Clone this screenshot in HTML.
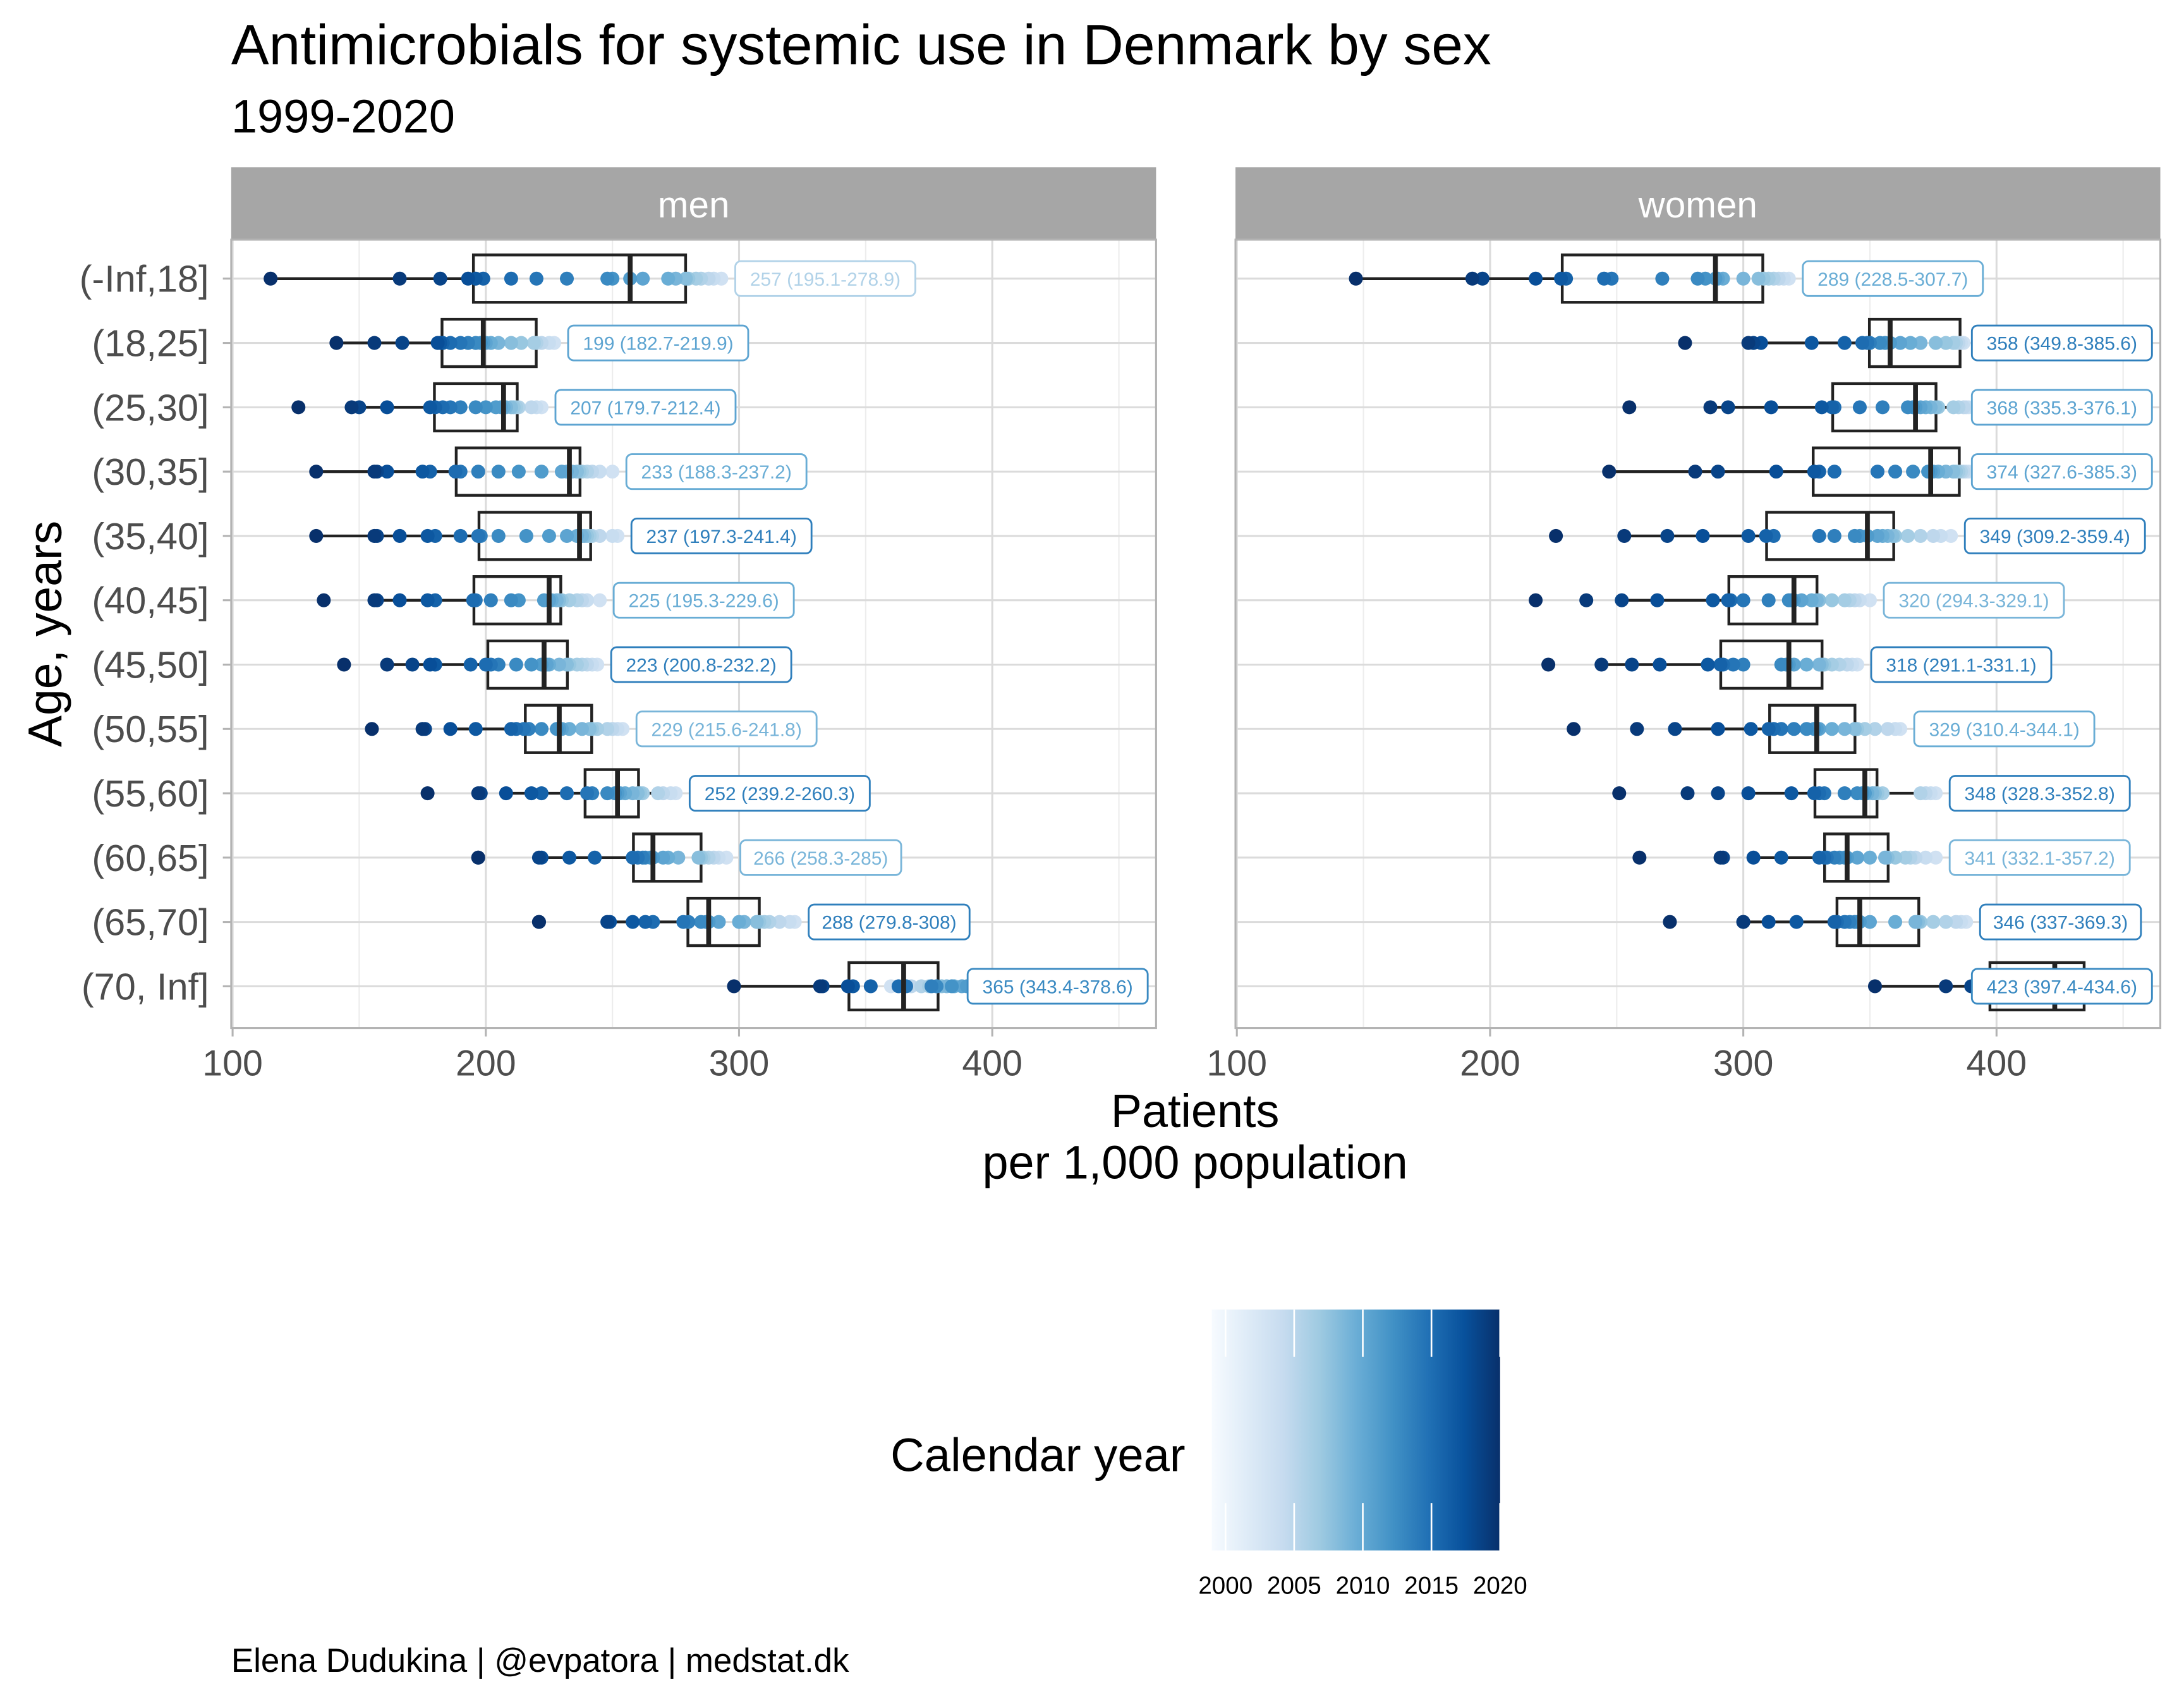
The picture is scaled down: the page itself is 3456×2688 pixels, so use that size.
<!DOCTYPE html>
<html><head><meta charset="utf-8"><style>
html,body{margin:0;padding:0;background:#fff}
svg{display:block;font-family:"Liberation Sans",Arial,sans-serif}
</style></head><body>
<svg id="c" width="3456" height="2688" viewBox="0 0 1568 1219.6" preserveAspectRatio="none">
<text x="166" y="46" font-size="40.6" fill="#000">Antimicrobials for systemic use in Denmark by sex</text>
<text x="166" y="95" font-size="33.6" fill="#000">1999-2020</text>
<text transform="translate(44,455) rotate(-90)" text-anchor="middle" font-size="34">Age, years</text>
<text x="858" y="809" text-anchor="middle" font-size="33.5">Patients</text>
<text x="858" y="846" text-anchor="middle" font-size="33.5">per 1,000 population</text>
<text x="851" y="1056" text-anchor="end" font-size="33.7">Calendar year</text>
<text x="166" y="1200" font-size="24">Elena Dudukina | @evpatora | medstat.dk</text>
<g id="plots"></g>
</svg>
<script>
const ageGroups=["(-Inf,18]","(18,25]","(25,30]","(30,35]","(35,40]","(40,45]","(45,50]","(50,55]","(55,60]","(60,65]","(65,70]","(70, Inf]"];
const years=[1999,2000,2001,2002,2003,2004,2005,2006,2007,2008,2009,2010,2011,2012,2013,2014,2015,2016,2017,2018,2019,2020];
const xTicks=[100,200,300,400];
const legendTicks=[2000,2005,2010,2015,2020];
const menValues=[
[293,290,288,285,283,280,279,275,272,262,257,250,248,232,220,210,199,196,193,182,166,115],
[227,225,222,220,219,214,210,205,202,200,199,198,196,193,190,186,183,182,181,167,156,141],
[222,220,218,213,212,211,210,208,207,206,204,200,196,190,186,183,180,178,161,150,147,126],
[250,245,242,240,238,237,236,234,232,230,222,213,205,197,190,188,178,175,161,157,156,133],
[252,250,245,242,241,240,239,238,236,232,225,216,205,198,197,190,180,177,166,157,156,133],
[245,240,238,236,233,230,229,228,226,225,223,213,210,202,196,195,180,177,166,157,156,136],
[244,242,240,238,236,233,232,229,225,224,222,218,212,205,202,200,194,180,178,171,161,144],
[254,252,250,248,244,242,241,238,233,230,229,228,222,217,215,212,210,196,186,176,175,155],
[275,273,270,268,262,261,260,258,255,253,252,251,248,242,240,232,222,218,208,198,197,177],
[295,292,290,288,286,285,284,276,272,270,266,265,263,262,260,258,243,233,222,221,197,197],
[322,320,316,312,310,308,307,302,300,292,288,287,285,280,278,266,263,258,249,248,221,221],
[360,365,368,372,375,378,380,382,385,388,390,384,378,376,366,363,352,345,343,333,332,298]];
const womenValues=[
[318,316,314,312,310,308,306,300,292,290,289,285,282,268,248,245,230,228,218,197,193,147],
[387,386,385,384,383,380,376,370,366,362,358,356,354,350,349,347,340,327,307,304,302,277],
[389,388,387,385,383,377,376,374,372,370,368,367,365,355,346,336,335,331,311,294,287,255],
[389,388,387,386,385,384,383,380,377,375,374,373,367,360,353,336,330,328,313,290,281,247],
[382,378,375,370,365,360,359,357,355,353,349,346,344,336,330,312,309,302,284,270,253,226],
[350,346,344,342,340,335,330,329,327,323,320,319,318,310,300,295,294,288,266,252,238,218],
[345,343,341,338,335,332,331,330,325,320,318,317,315,300,296,292,291,286,267,256,244,223],
[362,360,357,352,348,345,344,340,335,330,329,328,325,320,315,312,310,303,290,273,258,233],
[376,374,372,370,355,353,352,351,349,348,348,347,345,340,332,330,328,319,302,290,278,251],
[376,372,368,366,364,360,357,356,350,345,341,340,338,336,333,332,330,315,304,292,291,259],
[388,386,384,380,375,370,369,368,360,350,346,345,344,342,340,337,336,321,310,300,300,271],
[448,445,442,440,438,435,434,432,430,425,423,422,420,415,410,405,400,397,395,390,380,352]];
const menMedian=[257,199,207,233,237,225,223,229,252,266,288,365];
const menQ1=[195.1,182.7,179.7,188.3,197.3,195.3,200.8,215.6,239.2,258.3,279.8,343.4];
const menQ3=[278.9,219.9,212.4,237.2,241.4,229.6,232.2,241.8,260.3,285,308,378.6];
const menLabelYear=[2002,2008,2008,2007,2012,2007,2012,2006,2012,2006,2012,2011];
const womenMedian=[289,358,368,374,349,320,318,329,348,341,346,423];
const womenQ1=[228.5,349.8,335.3,327.6,309.2,294.3,291.1,310.4,328.3,332.1,337,397.4];
const womenQ3=[307.7,385.6,376.1,385.3,359.4,329.1,331.1,344.1,352.8,357.2,369.3,434.6];
const womenLabelYear=[2007,2012,2008,2008,2012,2006,2012,2007,2012,2006,2012,2011];

const stops=["#f7fbff","#deebf7","#c6dbef","#9ecae1","#6baed6","#4292c6","#2171b5","#08519c","#08306b"];
function hex(h){return [1,3,5].map(i=>parseInt(h.substr(i,2),16));}
function colorAt(t){t=t*(stops.length-1);let i=Math.min(Math.floor(t),stops.length-2);let f=t-i;let a=hex(stops[i]),b=hex(stops[i+1]);return "rgb("+a.map((v,k)=>Math.round(v+(b[k]-v)*f)).join(",")+")";}
function yearColor(y){return colorAt(0.2+0.8*(y-1999)/21);}
const NS="http://www.w3.org/2000/svg";
const root=document.getElementById('plots');
function mk(tag,attrs,parent){const e=document.createElementNS(NS,tag);for(const k in attrs)e.setAttribute(k,attrs[k]);(parent||root).appendChild(e);return e;}
const yScale=i=>200+i*46.18;
function panel(x0,name,vals,med,q1,q3,ly){
  const xScale=v=>x0+1+(v-100)*1.818;
  const g=mk('g',{});
  
  
  const L=x0,R=x0+664;
  const st=mk('rect',{x:L,y:120,width:R-L,height:52,fill:'#a6a6a6'},g);
  
  const stt=mk('text',{x:(L+R)/2,y:156,'text-anchor':'middle','font-size':26.5,fill:'#fff'},g);stt.textContent=name;
  
  for(let v=150;v<=450;v+=100)mk('line',{x1:xScale(v),x2:xScale(v),y1:172,y2:738,stroke:'#ededed','stroke-width':1},g);
  xTicks.forEach(v=>{mk('line',{x1:xScale(v),x2:xScale(v),y1:172,y2:738,stroke:'#dbdbdb','stroke-width':1.4},g);
    mk('line',{x1:xScale(v),x2:xScale(v),y1:738,y2:744,stroke:'#b3b3b3','stroke-width':1.4},g);
    const t=mk('text',{x:xScale(v),y:772,'text-anchor':'middle','font-size':26,fill:'#4d4d4d'},g);t.textContent=v;
    });
  ageGroups.forEach((a,i)=>mk('line',{x1:L,x2:R,y1:yScale(i),y2:yScale(i),stroke:'#dbdbdb','stroke-width':1.4},g));
  mk('rect',{x:L,y:172,width:R-L,height:566,fill:'none',stroke:'#b3b3b3','stroke-width':1.4},g);
  ageGroups.forEach((a,i)=>{
    const y=yScale(i),d=vals[i],iqr=q3[i]-q1[i];
    const lo=Math.min(...d.filter(v=>v>=q1[i]-1.5*iqr)),hi=Math.max(...d.filter(v=>v<=q3[i]+1.5*iqr));
    const bg=mk('g',{},g);
    mk('line',{x1:xScale(lo),x2:xScale(q1[i]),y1:y,y2:y,stroke:'#222','stroke-width':2},bg);
    mk('line',{x1:xScale(q3[i]),x2:xScale(hi),y1:y,y2:y,stroke:'#222','stroke-width':2},bg);
    mk('rect',{x:xScale(q1[i]),y:y-17,width:xScale(q3[i])-xScale(q1[i]),height:34,fill:'none',stroke:'#222','stroke-width':2},bg);
    d.forEach((v,k)=>{const c=mk('circle',{cx:xScale(v),cy:y,r:5,fill:yearColor(years[k])},bg);
      });
    mk('line',{x1:xScale(med[i]),x2:xScale(med[i]),y1:y-17,y2:y+17,stroke:'#222','stroke-width':3.5},bg);
    const txt=med[i]+" ("+q1[i]+"-"+q3[i]+")";const col=yearColor(ly[i]);
    const w=txt.length*6.9+12;let lx=xScale(Math.max(...d))+10;
    if(lx+w>R-6)lx=R-6-w;
    const lb=mk('rect',{x:lx,y:y-12.5,width:w,height:25,rx:4,fill:'#fff',stroke:col,'stroke-width':1.3},bg);
    
    const lt=mk('text',{x:lx+w/2,y:y+5,'text-anchor':'middle','font-size':13.6,fill:col},bg);lt.textContent=txt;
    
  });
}
ageGroups.forEach((a,i)=>{const t=mk('text',{x:150,y:yScale(i)+9.5,'text-anchor':'end','font-size':27,fill:'#4d4d4d'});t.textContent=a;
  
  mk('line',{x1:160,x2:166,y1:yScale(i),y2:yScale(i),stroke:'#b3b3b3','stroke-width':1.4});});
panel(166,'men',menValues,menMedian,menQ1,menQ3,menLabelYear);
panel(887,'women',womenValues,womenMedian,womenQ1,womenQ3,womenLabelYear);
// legend
const lg=mk('g',{});
const defs=mk('defs',{},lg);const grad=mk('linearGradient',{id:'bl',x1:0,x2:1,y1:0,y2:0},defs);
stops.forEach((s,i)=>mk('stop',{offset:i/(stops.length-1),'stop-color':s},grad));
const lx=v=>870+(v-1999)*(207/21);
mk('rect',{x:870,y:940,width:207,height:173,fill:'url(#bl)'},lg);
legendTicks.forEach(v=>{mk('line',{x1:lx(v),x2:lx(v),y1:940,y2:974,stroke:'#fff','stroke-width':1.2},lg);
  mk('line',{x1:lx(v),x2:lx(v),y1:1079,y2:1113,stroke:'#fff','stroke-width':1.2},lg);
  const t=mk('text',{x:lx(v),y:1144,'text-anchor':'middle','font-size':17.5,fill:'#000'},lg);t.textContent=v;
  });
</script>
</body></html>
